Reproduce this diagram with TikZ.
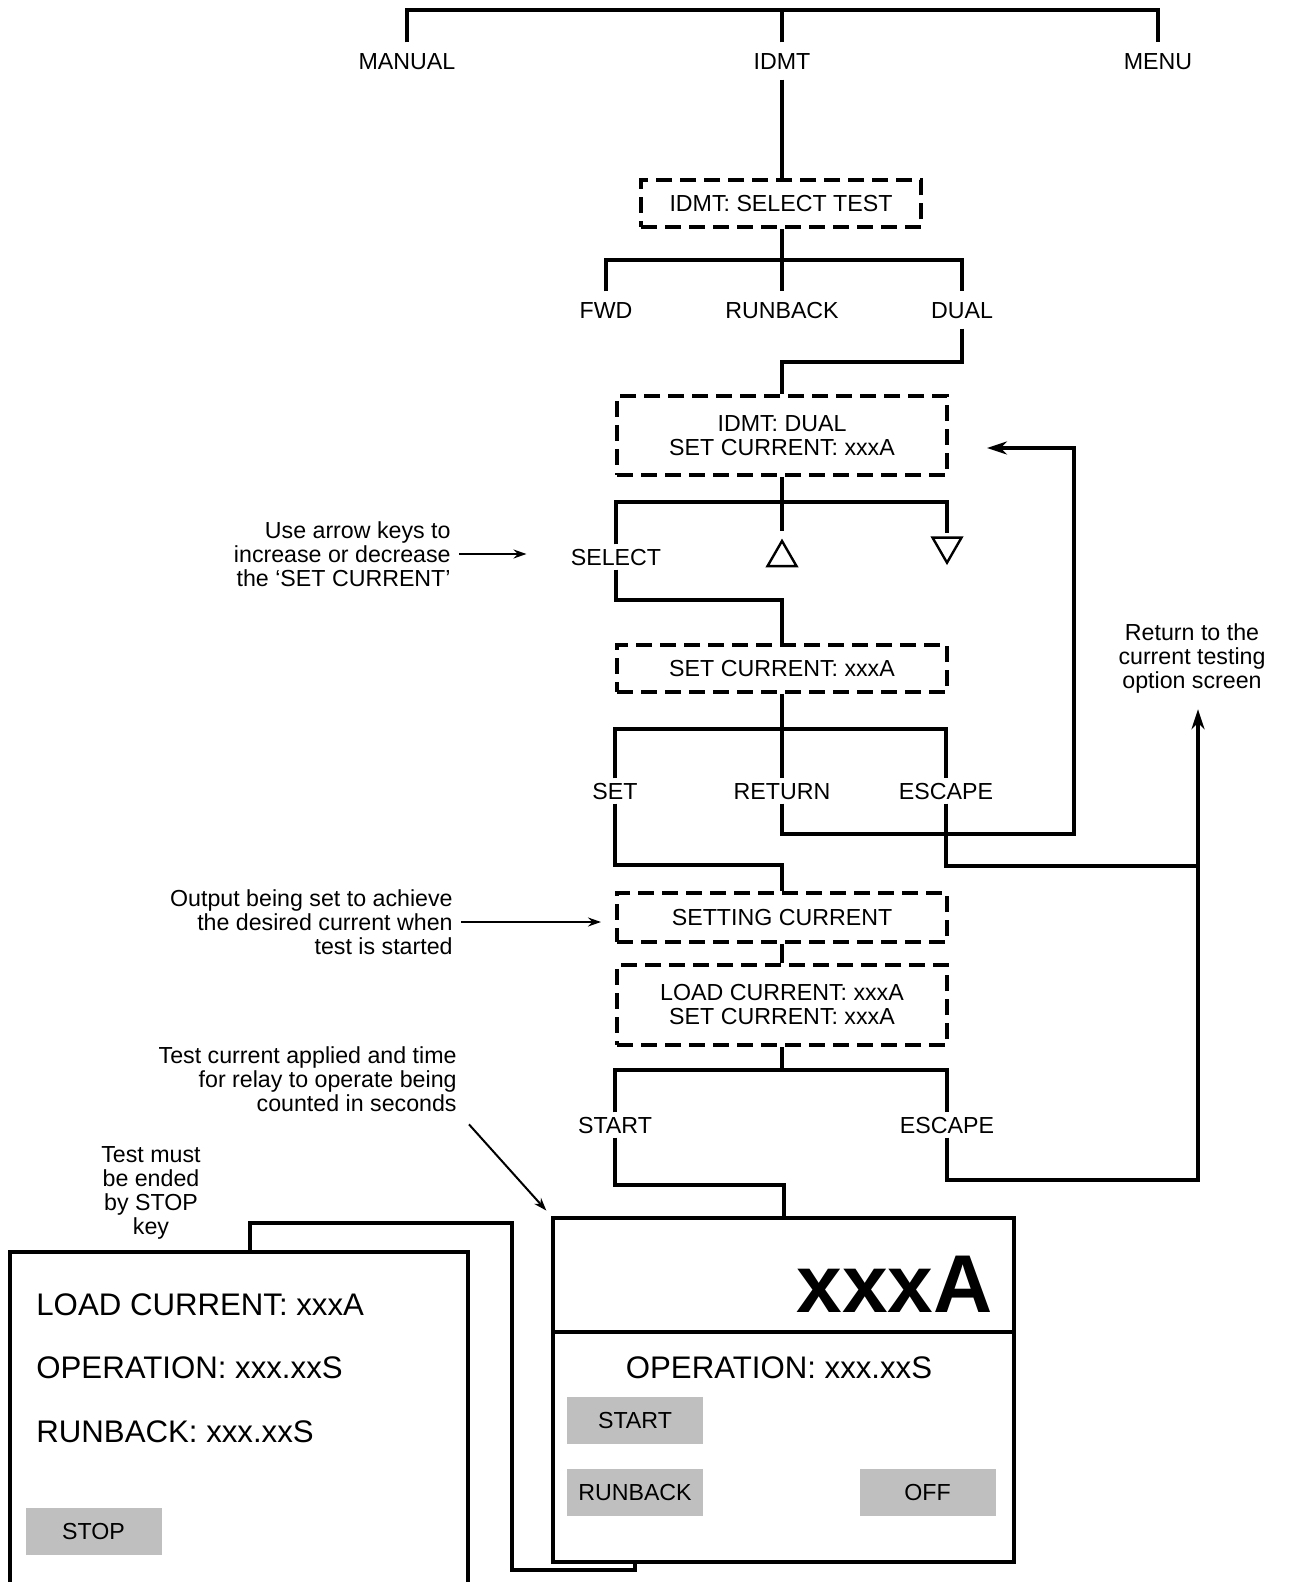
\documentclass[tikz,border=0pt]{standalone}
\usepackage{fontspec}
\setmainfont{Liberation Sans}
\usetikzlibrary{arrows, arrows.meta, positioning, shapes.geometric}
\tikzset{
    >={Stealth[length=10pt,width=6.5pt]}, % heads of the thick return arrows
    wire/.style={line width=2pt}, % solid connectors between keys and screens
    screen/.style={draw, line width=2pt, dash pattern=on 8pt off 4pt, align=center, inner sep=0pt, minimum width=165pt},
    keylbl/.style={inner xsep=1pt, inner ysep=5pt, text height=8.3pt, text depth=0pt},
    keylow/.style={keylbl, inner ysep=2pt},
    arrowkey/.style={draw, line width=1.2pt, regular polygon, regular polygon sides=3, minimum size=16.7pt, inner sep=0pt, outer sep=2.5pt},
    note/.style={align=right, inner sep=4pt},
    notearrow/.style={line width=1pt, -{Stealth[length=6.5pt,width=4.5pt]}},
    panel/.style={draw, line width=2pt, inner sep=0pt, outer sep=0pt},
    softkey/.style={fill=gray!50, minimum width=68pt, minimum height=23.5pt, inner sep=0pt},
    bigtxt/.style={font=\fontsize{15.6}{18}\selectfont, anchor=west, inner sep=0pt},
}

\begin{document}
\begin{tikzpicture}[x=0.5pt, y=-0.5pt, font=\fontsize{11.6}{12}\selectfont]
        \useasboundingbox (0,0) rectangle (1291,1582);

        % Menu principale
        \coordinate (topBar) at (782,10);
        \node[keylbl] (manualKey) at (407,61) {MANUAL};
        \node[keylbl] (idmtKey) at (782,61) {IDMT};
        \node[keylbl] (menuKey) at (1158,61) {MENU};
        \draw[wire] (manualKey.north) |- (topBar) -| (menuKey.north);
        \draw[wire] (idmtKey.north) -- (topBar);

        % Scelta del test
        \node[screen, minimum width=140pt, minimum height=23.5pt] (selTest) at (781,204) {IDMT: SELECT TEST};
        \draw[wire] (idmtKey.south) -- (selTest.north -| idmtKey);
        \coordinate (testBar) at (782,260);
        \node[keylbl] (fwdKey) at (606,310) {FWD};
        \node[keylbl] (runKey) at (782,310) {RUNBACK};
        \node[keylbl] (dualKey) at (962,310) {DUAL};
        \draw[wire] (fwdKey.north) |- (testBar) -| (dualKey.north);
        \draw[wire] (selTest.south -| runKey) -- (runKey.north);

        % Schermata DUAL
        \node[screen, minimum height=39.5pt] (dualScr) at (782,435.5) {IDMT: DUAL\\SET CURRENT: xxxA};
        \coordinate (dualJoin) at (782,362);
        \draw[wire] (dualKey.south) |- (dualJoin) -- (dualScr.north);

        % Tasti freccia
        \coordinate (arrowBar) at (782,502);
        \node[keylow] (selKey) at (616,557) {SELECT};
        \node[arrowkey] (upKey) at (782,557.7) {};
        \node[arrowkey, shape border rotate=180] (downKey) at (947,546) {};
        \draw[wire] (selKey.north) |- (arrowBar) -| (downKey.north);
        \draw[wire] (dualScr.south) -- (upKey.north);

        % Schermata SET CURRENT
        \node[screen, minimum height=23.5pt] (setScr) at (782,668.5) {SET CURRENT: xxxA};
        \coordinate (selJoin) at (782,600);
        \draw[wire] (selKey.south) |- (selJoin) -- (setScr.north);

        % SET / RETURN / ESCAPE
        \coordinate (setBar) at (782,729);
        \node[keylow] (setKey) at (615,791) {SET};
        \node[keylow] (retKey) at (782,791) {RETURN};
        \node[keylow] (escKeyA) at (946,791) {ESCAPE};
        \draw[wire] (setKey.north) |- (setBar) -| (escKeyA.north);
        \draw[wire] (setScr.south) -- (retKey.north);
        \coordinate (retLoop) at (1074,834);
        \coordinate (retTip) at (987,448);
        \draw[wire, ->] (retKey.south) |- (retLoop) |- (retTip);

        % Schermate di impostazione
        \node[screen, minimum height=24.5pt] (settingScr) at (782,917.5) {SETTING CURRENT};
        \coordinate (setJoin) at (782,865);
        \draw[wire] (setKey.south) |- (setJoin) -- (settingScr.north);
        \node[screen, minimum height=40pt] (loadScr) at (782,1005) {LOAD CURRENT: xxxA\\SET CURRENT: xxxA};
        \draw[wire] (settingScr.south) -- (loadScr.north);

        % START / ESCAPE
        \coordinate (startBar) at (782,1070);
        \node[keylow] (startKey) at (615,1125) {START};
        \node[keylow] (escKeyB) at (947,1125) {ESCAPE};
        \draw[wire] (startKey.north) |- (startBar) -| (escKeyB.north);
        \draw[wire] (loadScr.south) -- (startBar);

        % Ritorno alla schermata delle opzioni
        \node[align=center, inner sep=2pt] (retNote) at (1192,658) {Return to the\\current testing\\option screen};
        \coordinate (escJoin) at (1198,1180);
        \coordinate (escSide) at (1198,866);
        \draw[wire, ->] (escKeyB.south) |- (escJoin) -- ([yshift=-6pt]retNote.south -| escJoin);
        \draw[wire] (escKeyA.south) |- (escSide);

        % Display del test in corso
        \node[panel, minimum width=230.5pt, minimum height=57pt] (ampPanel) at (783.5,1275) {};
        \node[panel, minimum width=230.5pt, minimum height=115pt, below=0pt of ampPanel] (opPanel) {};
        \node[font=\fontsize{41}{41}\selectfont\bfseries, anchor=east, inner sep=0pt] (ampVal) at (993,1284) {xxxA};
        \node[font=\fontsize{15.6}{18}\selectfont] (opVal) at (779,1368) {OPERATION: xxx.xxS};
        \node[softkey] (startBtn) at (635,1420) {START};
        \node[softkey] (runBtn) at (635,1492.5) {RUNBACK};
        \node[softkey] (offBtn) at (927.5,1492.5) {OFF};
        \coordinate (ampJoin) at (783.5,1185);
        \draw[wire] (startKey.south) |- (ampJoin) -- (ampPanel.north);

        % Display del risultato
        \node[panel, minimum width=229pt, minimum height=190pt, anchor=north west] (resultPanel) at (10,1252) {};
        \node[bigtxt] (loadVal) at (36,1305) {LOAD CURRENT: xxxA};
        \node[bigtxt] (opLeft) at (36,1368) {OPERATION: xxx.xxS};
        \node[bigtxt] (runLeft) at (36,1432) {RUNBACK: xxx.xxS};
        \node[softkey] (stopBtn) at (93.5,1531.5) {STOP};
        \coordinate (stopLow) at (512,1570);
        \coordinate (stopHigh) at (250,1223);
        \draw[wire] (opPanel.south -| runBtn) |- (stopLow) |- (stopHigh) -- (stopHigh |- resultPanel.north);

        % Note
        \node[note, anchor=east] (keyNote) at (459,554) {Use arrow keys to\\increase or decrease\\the ‘SET CURRENT’};
        \draw[notearrow, shorten >=21pt] (keyNote.east) -- (keyNote.east -| selKey.west);
        \node[note, anchor=east] (outNote) at (461,922) {Output being set to achieve\\the desired current when\\test is started};
        \draw[notearrow, shorten >=7pt] (outNote.east) -- (outNote.east -| settingScr.west);
        \node[note, anchor=east] (testNote) at (465,1079) {Test current applied and time\\for relay to operate being\\counted in seconds};
        \draw[notearrow, shorten <=3pt, shorten >=5pt] (testNote.south east) -- (ampPanel.north west);
        \node[align=center, inner sep=0pt] (stopNote) at (151,1193) {Test must\\be ended\\by STOP\\key};
    \end{tikzpicture}
\end{document}
